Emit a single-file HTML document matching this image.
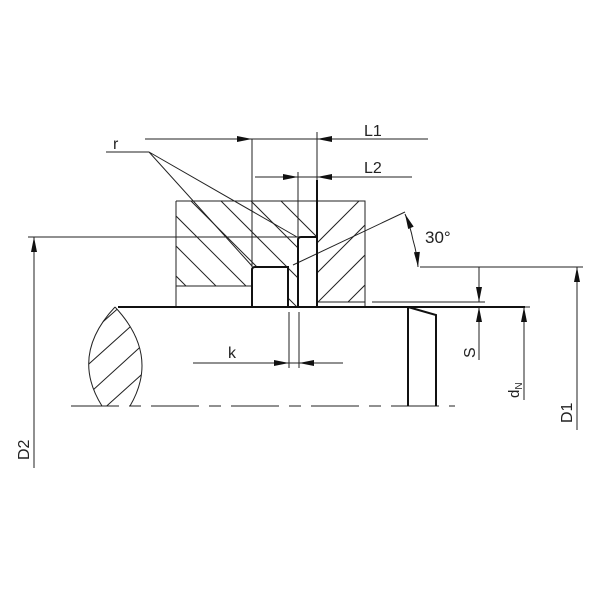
<!DOCTYPE html>
<html><head><style>body{margin:0;background:#fff}svg{display:block}text{font-family:"Liberation Sans",sans-serif;fill:#222}</style></head>
<body>
<svg width="600" height="600" viewBox="0 0 600 600" xmlns="http://www.w3.org/2000/svg">
<defs>
<marker id="a" viewBox="0 0 10 4" refX="10" refY="2" markerWidth="22" markerHeight="6" markerUnits="userSpaceOnUse" orient="auto"><path d="M0,0 L10,2 L0,4 z" fill="#111"/></marker>
<clipPath id="cl"><path d="M176,201 H317 V237 H298 V306 H288 V267 H252 V286 H176 Z"/></clipPath>
<clipPath id="cr"><path d="M317,201 H365 V302 H317 Z"/></clipPath>
<clipPath id="ce"><path d="M115,307 Q70,355 102,406 L130,406 Q160,355 115,307 Z"/></clipPath>
</defs>
<g stroke="#222" stroke-width="1" fill="none">
<g clip-path="url(#cl)">
<path d="M130,170 l150,150 M160,170 l150,150 M190,170 l150,150 M220,170 l150,150 M250,170 l150,150 M100,170 l150,150 M70,170 l150,150 M40,170 l150,150 M10,170 l150,150"/>
</g>
<g clip-path="url(#cr)">
<path d="M380,180 l-140,140 M410,180 l-140,140 M440,180 l-140,140 M470,180 l-140,140 M500,180 l-140,140"/>
</g>
<g clip-path="url(#ce)">
<path d="M60,360 l90,-80 M60,390 l100,-90 M60,420 l110,-100 M80,430 l100,-90"/>
</g>
<path d="M176,201 H365 V306 M176,201 V306 M176,286 H252 M317,302 H365"/>
<path d="M115,307 Q70,355 102,406 M115,307 Q160,355 130,406"/>
<path d="M71,406 H455" stroke-dasharray="48,10,12,10"/>
<path d="M28,237 H298 M420,267 H583 M372,302 H485 M525,307 H530 M252,139 V267 M317,132 V201 M298,172 V237"/>
<path d="M145,139 H428 M255,177 H412 M193,363 H343"/>
<path d="M289,312 V368 M299,312 V368"/>
<path d="M293,265 L405,212"/>
<path d="M106,152 H149 L252,266 M149,152 L297,237"/>
</g>
<g stroke="#111" stroke-width="2" fill="none">
<path d="M118,307 H525"/>
<path d="M252,306 V270 Q252,267 255,267 H288 V306 M298,306 V240 Q298,237 301,237 H317 V306 M317,180 V306"/>
<path d="M408,307 V406 M408,307 L436,315 V406"/>
</g>
<g stroke="#222" stroke-width="1" fill="none">
<path d="M210,139 H252" marker-end="url(#a)"/><path d="M340,139 H317" marker-end="url(#a)"/>
<path d="M275,177 H298" marker-end="url(#a)"/><path d="M340,177 H317" marker-end="url(#a)"/>
<path d="M267,363 H289" marker-end="url(#a)"/><path d="M321,363 H299" marker-end="url(#a)"/>
<path d="M479,267 V302" marker-end="url(#a)"/><path d="M479,360 V307" marker-end="url(#a)"/>
<path d="M524,400 V307" marker-end="url(#a)"/>
<path d="M577,430 V267" marker-end="url(#a)"/>
<path d="M34,468 V237" marker-end="url(#a)"/>
<path d="M413,240 A125,125 0 0 0 405,214" marker-end="url(#a)"/>
<path d="M413,240 A125,125 0 0 1 418,267" marker-end="url(#a)"/>
</g>
<text x="113" y="149" font-size="16">r</text>
<text x="364" y="136" font-size="16">L1</text>
<text x="364" y="173" font-size="16">L2</text>
<text x="425" y="243" font-size="17">30°</text>
<text x="228" y="358" font-size="16">k</text>
<text transform="translate(475,358) rotate(-90)" font-size="16">S</text>
<text transform="translate(519,398) rotate(-90)" font-size="15">d<tspan font-size="10" dy="3">N</tspan></text>
<text transform="translate(572,423) rotate(-90)" font-size="16">D1</text>
<text transform="translate(29,460) rotate(-90)" font-size="16">D2</text>
</svg>
</body></html>
